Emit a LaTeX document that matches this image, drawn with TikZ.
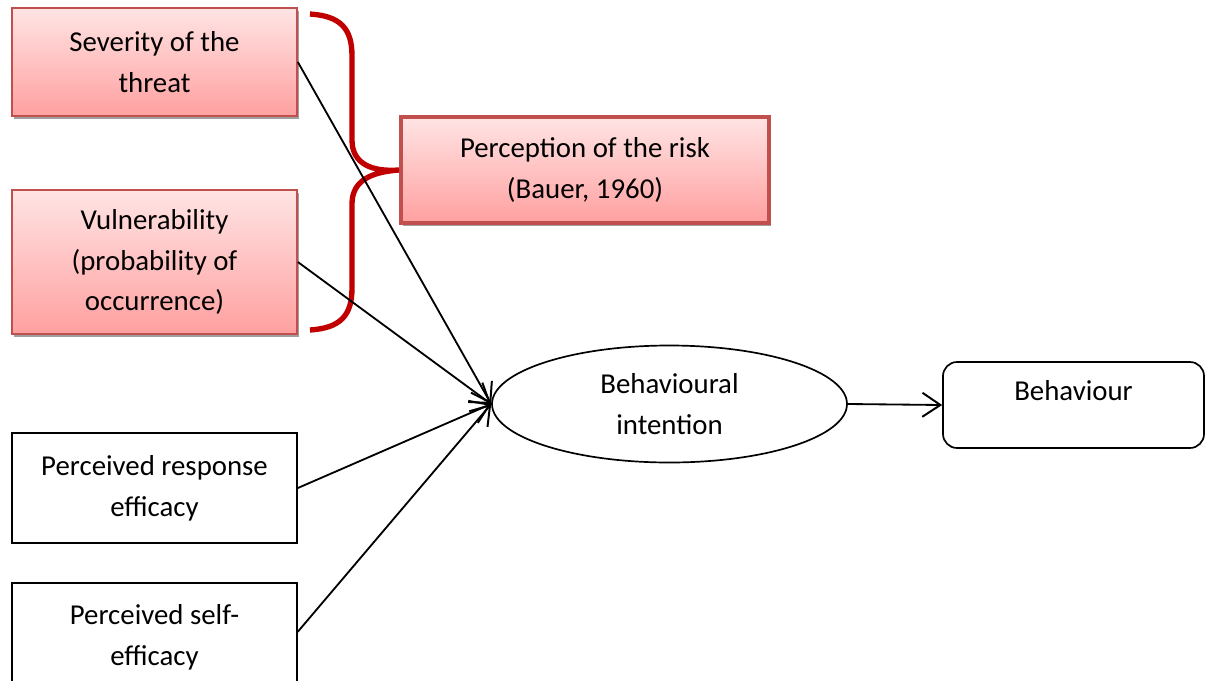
\documentclass[tikz,border=0pt]{standalone}
\usepackage{fontspec}
\setmainfont{Carlito}
\usetikzlibrary{positioning, arrows.meta, shapes.geometric, shadows}
\definecolor{RiskBorder}{RGB}{192, 80, 77}
\definecolor{RiskTop}{RGB}{255, 228, 228}
\definecolor{RiskBottom}{RGB}{255, 160, 160}
\definecolor{BraceRed}{RGB}{192, 0, 0}
\definecolor{ShadowGrey}{RGB}{160, 160, 160}

\begin{document}
\begin{tikzpicture}[
    % Global Styles
    every node/.style={font=\fontsize{20.5}{29}\selectfont},
    riskbox/.style={
        rectangle,
        draw=RiskBorder,        % red-brown border
        line width=1.2pt,
        top color=RiskTop,      % light pink at the top
        bottom color=RiskBottom,% darker pink at the bottom
        drop shadow={shadow xshift=0.06cm, shadow yshift=-0.07cm,
                     fill=ShadowGrey, opacity=1},
        align=center,
        minimum width=7.125cm
    },
    plainbox/.style={
        rectangle,
        draw=black,
        line width=1.2pt,
        fill=white,
        align=center,
        minimum width=7.125cm
    },
    arrow/.style={
        -{Straight Barb[length=0.45cm, width=0.6cm, line width=1.4pt]},
        line width=1.3pt,
        draw=black
    },
    brace/.style={
        draw=BraceRed,
        line width=3.8pt
    }
]
    \useasboundingbox (0,0) rectangle (30.2,-17);

    % --- Placement of Nodes ---

    % Left Column (risk factors)
    \node[riskbox, minimum height=2.7cm] (severity) at (3.8625,-1.55) {Severity of the\\threat};
    \node[riskbox, minimum height=3.6cm] (vulnerability) at (3.8625,-6.55) {Vulnerability\\(probability of\\occurrence)};

    % Left Column (efficacy)
    \node[plainbox, minimum height=2.75cm] (response) at (3.8625,-12.2) {Perceived response\\efficacy};
    \node[plainbox, minimum height=2.75cm, below=0.95cm of response] (selfeff) {Perceived self-\\efficacy};

    % Risk perception box
    \node[riskbox, line width=2.8pt, minimum width=9.2cm, minimum height=2.65cm] (risk) at (14.625,-4.25) {Perception of the risk\\(Bauer, 1960)};

    % Centre and Right
    \node[ellipse, draw, line width=1.2pt, align=center, minimum width=8.875cm, minimum height=2.925cm, inner sep=0pt] (intention) at (16.7375,-10.1) {Behavioural\\intention};
    \node[rectangle, draw, rounded corners=10pt, line width=1.2pt, minimum width=6.525cm, minimum height=2.15cm, text depth=0.72cm] (behaviour) at (26.8375,-10.125) {Behaviour};

    % --- Brace grouping the two risk factors ---
    \draw[brace] (7.75,-0.35) .. controls (8.5,-0.4) and (8.8,-0.7) .. (8.8,-1.4)
        -- (8.8,-3.5) .. controls (8.8,-4.1) and (9.3,-4.3) .. (risk.west)
        .. controls (9.3,-4.3) and (8.8,-4.5) .. (8.8,-5.1)
        -- (8.8,-7.2) .. controls (8.8,-7.9) and (8.5,-8.2) .. (7.75,-8.25);

    % --- Connections ---
    \draw[arrow] (severity.east) -- (intention.west);
    \draw[arrow] (vulnerability.east) -- (intention.west);
    \draw[arrow] (response.east) -- (intention.west);
    \draw[arrow] ([yshift=0.15cm]selfeff.east) -- (intention.west);
    \draw[arrow] (intention.east) -- (behaviour.west);

\end{tikzpicture}
\end{document}
